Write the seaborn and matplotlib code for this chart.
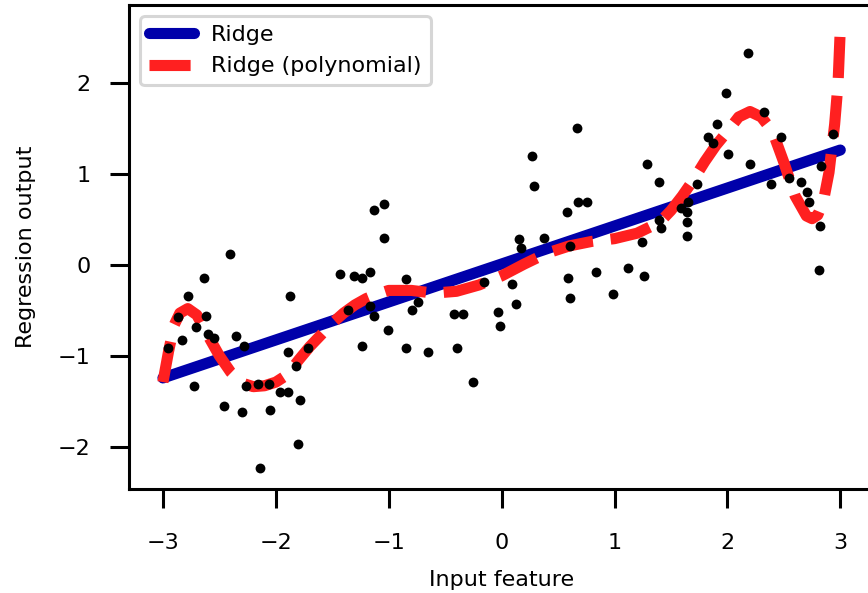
import numpy as np
import pandas as pd
import matplotlib
matplotlib.use("Agg")
import matplotlib.pyplot as plt
import seaborn as sns

# Observed samples of the wave data
x_points = [-2.953, -2.864, -2.829, -2.776, -2.725, -2.708, -2.634, -2.619, -2.599, -2.546,
            -2.457, -2.407, -2.353, -2.300, -2.280, -2.262, -2.156, -2.141, -2.058, -2.052,
            -1.966, -1.888, -1.878, -1.893, -1.819, -1.787, -1.804, -1.714, -1.432, -1.361,
            -1.304, -1.233, -1.165, -1.165, -1.131, -1.235, -1.128, -1.040, -1.040, -1.004,
            -0.848, -0.739, -0.792, -0.848, -0.650, -0.420, -0.345, -0.399, -0.257, -0.154,
            -0.030, -0.015, 0.096, 0.127, 0.153, 0.168, 0.271, 0.286, 0.376, 0.576,
            0.590, 0.605, 0.605, 0.664, 0.678, 0.753, 0.835, 0.983, 1.121, 1.245,
            1.263, 1.284, 1.393, 1.393, 1.408, 1.585, 1.639, 1.655, 1.639, 1.639,
            1.727, 1.832, 1.874, 1.904, 1.989, 2.007, 2.182, 2.204, 2.328, 2.383,
            2.471, 2.542, 2.651, 2.701, 2.719, 2.826, 2.824, 2.808, 2.932]
y_points = [-0.914, -0.569, -0.826, -0.341, -1.333, -0.680, -0.146, -0.562, -0.760, -0.801,
            -1.553, 0.121, -0.782, -1.622, -0.892, -1.333, -1.314, -2.239, -1.314, -1.600,
            -1.404, -1.404, -0.341, -0.958, -1.116, -1.492, -1.975, -0.917, -0.099, -0.496,
            -0.124, -0.146, -0.077, -0.452, -0.562, -0.892, 0.602, 0.675, 0.294, -0.716,
            -0.157, -0.404, -0.496, -0.917, -0.955, -0.543, -0.543, -0.917, -1.292, -0.191,
            -0.521, -0.672, -0.211, -0.430, 0.281, 0.187, 1.200, 0.870, 0.300, 0.581,
            -0.143, 0.209, -0.363, 1.505, 0.696, 0.696, -0.077, -0.319, -0.036, 0.257,
            -0.121, 1.112, 0.911, 0.496, 0.404, 0.631, 0.587, 0.697, 0.477, 0.319,
            0.892, 1.404, 1.347, 1.553, 1.889, 1.219, 2.331, 1.112, 1.688, 0.892,
            1.404, 0.960, 0.911, 0.801, 0.691, 1.094, 0.430, -0.055, 1.443]

# Plain ridge fit (straight line across the input range)
ridge_x = [-3.0, 3.0]
ridge_y = [-1.244, 1.266]

# Ridge fit on polynomial features
poly_x = [-3.0, -2.95, -2.9, -2.85, -2.78, -2.7, -2.6, -2.5, -2.4, -2.3,
          -2.2, -2.1, -2.0, -1.9, -1.8, -1.7, -1.6, -1.5, -1.4, -1.3,
          -1.2, -1.1, -1.0, -0.8, -0.6, -0.4, -0.2, 0.0, 0.2, 0.4,
          0.6, 0.8, 1.0, 1.2, 1.4, 1.5, 1.6, 1.7, 1.8, 1.9,
          2.0, 2.1, 2.2, 2.3, 2.4, 2.5, 2.6, 2.7, 2.75, 2.8,
          2.85, 2.9, 2.95, 2.98, 3.0]
poly_y = [-1.29, -0.95, -0.66, -0.53, -0.48, -0.55, -0.78, -1.00, -1.18, -1.30,
          -1.34, -1.33, -1.29, -1.21, -1.05, -0.90, -0.77, -0.64, -0.53, -0.44,
          -0.37, -0.32, -0.28, -0.28, -0.31, -0.29, -0.22, -0.12, 0.01, 0.13,
          0.21, 0.26, 0.29, 0.35, 0.47, 0.60, 0.76, 0.94, 1.14, 1.32,
          1.47, 1.63, 1.69, 1.63, 1.47, 1.13, 0.76, 0.54, 0.51, 0.55,
          0.70, 1.02, 1.55, 2.00, 2.60]

sns.set_style("ticks", rc={
    "axes.edgecolor": "black",
    "xtick.color": "black",
    "ytick.color": "black",
    "text.color": "black",
    "axes.labelcolor": "black",
})
plt.rcParams["font.family"] = ["DejaVu Sans"]
plt.rcParams["font.size"] = 16

fig = plt.figure(figsize=(8.68, 5.93), dpi=100)
ax = fig.add_axes([0.1487, 0.1749, 0.8584, 0.8162])

sns.lineplot(x=ridge_x, y=ridge_y, ax=ax, color="#0000aa", lw=8, label="Ridge")
sns.lineplot(x=poly_x, y=poly_y, ax=ax, color="#ff2020", lw=8, linestyle="--",
             label="Ridge (polynomial)")
sns.scatterplot(x=x_points, y=y_points, ax=ax, color="black", s=50, linewidth=0,
                zorder=3)

ax.set_xlim(-3.3, 3.3)
ax.set_ylim(-2.47, 2.86)
ax.set_xticks([-3, -2, -1, 0, 1, 2, 3])
ax.set_yticks([-2, -1, 0, 1, 2])
ax.set_xlabel("Input feature", fontsize=16, labelpad=12)
ax.set_ylabel("Regression output", fontsize=16, labelpad=16)
ax.tick_params(axis="both", which="major", length=13.5, width=2.2, labelsize=16)
ax.tick_params(axis="x", pad=18)
ax.tick_params(axis="y", pad=14)
for side in ax.spines.values():
    side.set_linewidth(2.2)

leg = ax.legend(loc="upper left", fontsize=16, frameon=True, handlelength=2.0)
leg.get_frame().set_linewidth(2.2)
leg.get_frame().set_edgecolor("0.8")

fig.savefig("out.png", dpi=100)
